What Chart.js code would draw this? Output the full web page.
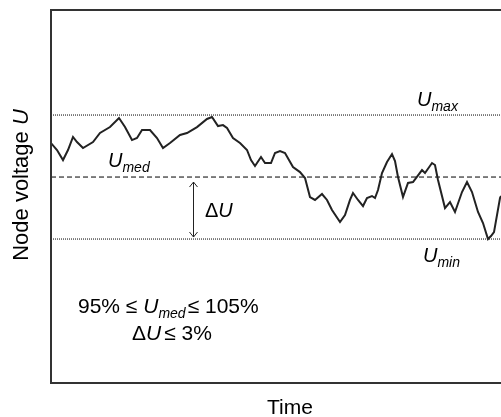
<!DOCTYPE html>
<html>
<head>
<meta charset="utf-8">
<script src="https://cdn.jsdelivr.net/npm/chart.js@4.4.0/dist/chart.umd.min.js"></script>
<style>
  html,body{margin:0;padding:0;background:#fff;overflow:hidden}
  #wrap{width:501px;height:417px;position:relative}
</style>
</head>
<body>
<div id="wrap"><canvas id="c"></canvas></div>
<script>
// time axis (arbitrary units) and node voltage in % of nominal
const time = [0,6,12,17,22,26,32,42,49,59,68,74,81,86,91,99,106,112,119,129,136,146,156,161,167,172,176,182,189,196,200,204,210,214,220,224,229,234,242,249,254,259,264,271,276,281,289,294,299,302,307,312,316,321,324,327,331,336,341,344,347,352,357,362,371,374,381,384,387,394,399,404,411,416,421,427,432,437,440,443,449,450]
const voltage = [102.74,102.18,101.37,102.18,103.23,102.82,102.34,102.82,103.55,104.03,104.76,104.03,102.98,103.15,103.79,103.79,103.15,102.34,102.74,103.39,103.55,104.03,104.68,104.84,104.11,104.19,103.95,103.15,102.74,102.18,101.37,100.89,101.61,101.13,101.13,101.94,102.10,101.94,100.81,100.40,99.92,98.39,98.15,98.63,98.15,97.34,96.37,96.94,98.15,98.71,98.15,97.66,98.31,98.47,98.31,98.95,100.32,101.21,101.85,101.29,100.00,98.39,99.52,99.60,100.56,100.32,101.13,100.97,99.76,97.50,97.98,97.18,98.79,99.60,98.79,97.18,96.29,95.00,95.24,95.56,98.31,98.47]
const U_MAX = 105, U_MED = 100, U_MIN = 95
const T_END = 450

const FONT = '"Liberation Sans", Arial, sans-serif'
const FS = 21

function hline(v){ return [{x:0,y:v},{x:T_END,y:v}] }

// text with italic U and a small italic subscript
function drawSub(ctx, x, y, main, sub, size){
  ctx.font = `italic ${size}px ${FONT}`
  ctx.fillText(main, x, y)
  const w = ctx.measureText(main).width
  ctx.font = `italic 14px ${FONT}`
  ctx.fillText(sub, x + w, y + 5)
  return w + ctx.measureText(sub).width
}

const overlay = {
  id:'overlay',
  afterDraw(chart){
    const {ctx, chartArea:a, scales:{x, y}} = chart
    ctx.save()
    // frame (left, top, bottom) - right side is cut off in the original
    ctx.strokeStyle = '#333'; ctx.lineWidth = 2
    ctx.beginPath()
    ctx.moveTo(a.right + 20, a.top); ctx.lineTo(a.left, a.top); ctx.lineTo(a.left, a.bottom); ctx.lineTo(a.right + 20, a.bottom)
    ctx.stroke()

    ctx.fillStyle = '#000'; ctx.textBaseline = 'alphabetic'; ctx.textAlign = 'left'
    drawSub(ctx, x.getPixelForValue(366), y.getPixelForValue(105.73), 'U', 'max', 20)
    drawSub(ctx, x.getPixelForValue(57), y.getPixelForValue(100.81), 'U', 'med', 20)
    drawSub(ctx, x.getPixelForValue(372), y.getPixelForValue(93.15), 'U', 'min', 20)

    // delta U arrow
    const ax = Math.round(x.getPixelForValue(142)) + 0.5
    const y1 = y.getPixelForValue(U_MED) + 5, y2 = y.getPixelForValue(U_MIN) - 2
    ctx.strokeStyle = '#222'; ctx.lineWidth = 1
    ctx.beginPath()
    ctx.moveTo(ax, y1); ctx.lineTo(ax, y2)
    ctx.moveTo(ax-4, y1+5); ctx.lineTo(ax, y1); ctx.lineTo(ax+4, y1+5)
    ctx.moveTo(ax-4, y2-5); ctx.lineTo(ax, y2); ctx.lineTo(ax+4, y2-5)
    ctx.stroke()
    ctx.font = `20px ${FONT}`
    let px = x.getPixelForValue(154), py = y.getPixelForValue(96.77)
    ctx.fillText('Δ', px, py); px += ctx.measureText('Δ').width
    ctx.font = `italic 20px ${FONT}`; ctx.fillText('U', px, py)

    // conditions
    px = x.getPixelForValue(27); py = y.getPixelForValue(89.03)
    ctx.font = `${FS}px ${FONT}`
    ctx.fillText('95% ≤ ', px, py); px += ctx.measureText('95% ≤ ').width
    px += drawSub(ctx, px, py, 'U', 'med', FS) + 2
    ctx.font = `${FS}px ${FONT}`
    ctx.fillText('≤ 105%', px, py)

    px = x.getPixelForValue(81); py = y.getPixelForValue(86.85)
    ctx.fillText('Δ', px, py); px += ctx.measureText('Δ').width
    ctx.font = `italic ${FS}px ${FONT}`; ctx.fillText('U', px, py); px += ctx.measureText('U').width + 3
    ctx.font = `${FS}px ${FONT}`; ctx.fillText('≤ 3%', px, py)

    // axis titles
    ctx.textAlign = 'center'; ctx.textBaseline = 'middle'
    ctx.font = `${FS}px ${FONT}`
    ctx.fillText('Time', 290, 408)
    ctx.translate(22, 185); ctx.rotate(-Math.PI/2)
    ctx.font = `22px ${FONT}`
    const t1 = 'Node voltage ', w1 = ctx.measureText(t1).width
    ctx.font = `italic 22px ${FONT}`
    const w2 = ctx.measureText('U').width
    ctx.textAlign = 'left'
    ctx.font = `22px ${FONT}`; ctx.fillText(t1, -(w1+w2)/2, 0)
    ctx.font = `italic 22px ${FONT}`; ctx.fillText('U', -(w1+w2)/2 + w1, 0)
    ctx.restore()
  }
}

new Chart(document.getElementById('c'), {
  type:'line',
  data:{
    datasets:[
      { data: time.map((t,i)=>({x:t,y:voltage[i]})), borderColor:'#222', borderWidth:2, pointRadius:0, tension:0 },
      { data: hline(U_MAX), borderColor:'#000', borderWidth:1, borderDash:[1,1], pointRadius:0 },
      { data: hline(U_MED), borderColor:'#000', borderWidth:1, borderDash:[5,3], pointRadius:0 },
      { data: hline(U_MIN), borderColor:'#000', borderWidth:1, borderDash:[1,1], pointRadius:0 }
    ]
  },
  options:{
    responsive:true, maintainAspectRatio:false, animation:false,
    layout:{ padding:{ left:51, top:10, right:0, bottom:34 } },
    plugins:{ legend:{display:false}, tooltip:{enabled:false} },
    scales:{
      x:{ type:'linear', min:0, max:T_END, display:false },
      y:{ min:83.39, max:113.47, display:false }
    }
  },
  plugins:[overlay]
})
</script>
</body>
</html>
